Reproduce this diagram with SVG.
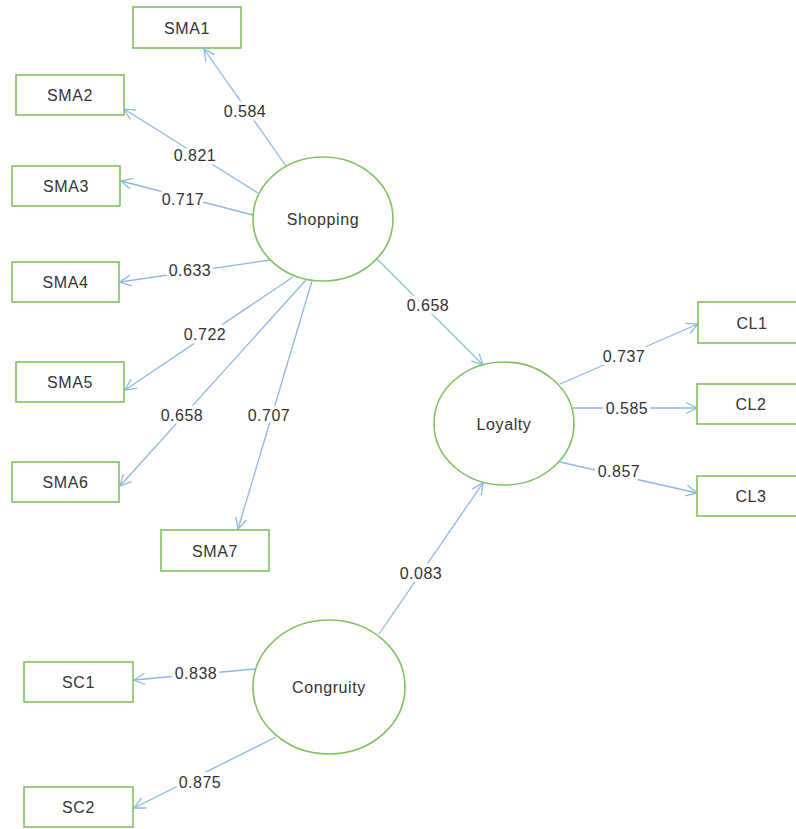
<svg xmlns="http://www.w3.org/2000/svg" width="796" height="829" viewBox="0 0 796 829">
<style>
.box{fill:#fff;stroke:#7dc35f;stroke-width:1.6}
.lat{fill:#fff;stroke:#7dc35f;stroke-width:1.6}
.t{font-family:"Liberation Sans",Arial,sans-serif;font-size:16px;fill:#333;text-anchor:middle;letter-spacing:0.6px}
.c{fill:none;stroke:#8db8e6;stroke-width:1.3}
.lbl{font-family:"Liberation Sans",Arial,sans-serif;font-size:16px;fill:#333;text-anchor:middle;letter-spacing:0.5px;stroke:#fff;stroke-width:7;stroke-linejoin:round;paint-order:stroke}
</style>
<defs>
<marker id="ah" markerUnits="userSpaceOnUse" markerWidth="14" markerHeight="14" viewBox="0 0 14 14" refX="12" refY="7" orient="auto">
<path d="M1,1.5 L12,7 L1,12.5" fill="none" stroke="#8db8e6" stroke-width="1.3"/>
</marker>
</defs>
<rect width="796" height="829" fill="#fff"/>
<g id="connectors">
<line class="c" x1="286" y1="166" x2="204" y2="49" marker-end="url(#ah)"/>
<line class="c" x1="258" y1="193" x2="124" y2="109" marker-end="url(#ah)"/>
<line class="c" x1="253" y1="215" x2="121" y2="181" marker-end="url(#ah)"/>
<line class="c" x1="270" y1="260" x2="120" y2="282" marker-end="url(#ah)"/>
<line class="c" x1="293" y1="277" x2="125" y2="390" marker-end="url(#ah)"/>
<line class="c" x1="306" y1="280" x2="120" y2="486" marker-end="url(#ah)"/>
<line class="c" x1="312" y1="281" x2="238" y2="529" marker-end="url(#ah)"/>
<line class="c" x1="377" y1="259" x2="483" y2="365" marker-end="url(#ah)"/>
<line class="c" x1="560" y1="384" x2="698" y2="324" marker-end="url(#ah)"/>
<line class="c" x1="573" y1="408" x2="697" y2="408" marker-end="url(#ah)"/>
<line class="c" x1="560" y1="462" x2="697" y2="493" marker-end="url(#ah)"/>
<line class="c" x1="379" y1="634" x2="483" y2="483" marker-end="url(#ah)"/>
<line class="c" x1="255" y1="669" x2="134" y2="680" marker-end="url(#ah)"/>
<line class="c" x1="276" y1="737" x2="134" y2="808" marker-end="url(#ah)"/>
<text class="lbl" x="245" y="117">0.584</text>
<text class="lbl" x="195" y="161">0.821</text>
<text class="lbl" x="183" y="205">0.717</text>
<text class="lbl" x="190" y="276">0.633</text>
<text class="lbl" x="205" y="340">0.722</text>
<text class="lbl" x="182" y="421">0.658</text>
<text class="lbl" x="269" y="421">0.707</text>
<text class="lbl" x="428" y="311">0.658</text>
<text class="lbl" x="624" y="362">0.737</text>
<text class="lbl" x="627" y="414">0.585</text>
<text class="lbl" x="619" y="477">0.857</text>
<text class="lbl" x="421" y="579">0.083</text>
<text class="lbl" x="196" y="679">0.838</text>
<text class="lbl" x="200" y="788">0.875</text>
</g>
<g id="Shopping"><ellipse class="lat" cx="323" cy="219" rx="70" ry="62"/><text class="t" x="323" y="225">Shopping</text></g>
<g id="Loyalty"><ellipse class="lat" cx="504" cy="423.5" rx="70" ry="61.5"/><text class="t" x="504" y="430">Loyalty</text></g>
<g id="Congruity"><ellipse class="lat" cx="329" cy="687" rx="76" ry="67"/><text class="t" x="329" y="693">Congruity</text></g>
<g id="SMA1"><rect class="box" x="133" y="7" width="108" height="41"/><text class="t" x="187" y="33.5">SMA1</text></g>
<g id="SMA2"><rect class="box" x="16" y="75" width="108" height="40"/><text class="t" x="70" y="101">SMA2</text></g>
<g id="SMA3"><rect class="box" x="12" y="166" width="108" height="40"/><text class="t" x="66" y="192">SMA3</text></g>
<g id="SMA4"><rect class="box" x="12" y="262" width="107" height="40"/><text class="t" x="65.5" y="288">SMA4</text></g>
<g id="SMA5"><rect class="box" x="16" y="362" width="108" height="40"/><text class="t" x="70" y="388">SMA5</text></g>
<g id="SMA6"><rect class="box" x="12" y="462" width="107" height="40"/><text class="t" x="65.5" y="488">SMA6</text></g>
<g id="SMA7"><rect class="box" x="161" y="530" width="108" height="41"/><text class="t" x="215" y="556.5">SMA7</text></g>
<g id="CL1"><rect class="box" x="698" y="302" width="108" height="41"/><text class="t" x="752" y="328.5">CL1</text></g>
<g id="CL2"><rect class="box" x="697" y="384" width="108" height="40"/><text class="t" x="751" y="410">CL2</text></g>
<g id="CL3"><rect class="box" x="697" y="476" width="108" height="40"/><text class="t" x="751" y="502">CL3</text></g>
<g id="SC1"><rect class="box" x="24" y="662" width="109" height="40"/><text class="t" x="78.5" y="688">SC1</text></g>
<g id="SC2"><rect class="box" x="24" y="787" width="109" height="40"/><text class="t" x="78.5" y="813">SC2</text></g>
</svg>
